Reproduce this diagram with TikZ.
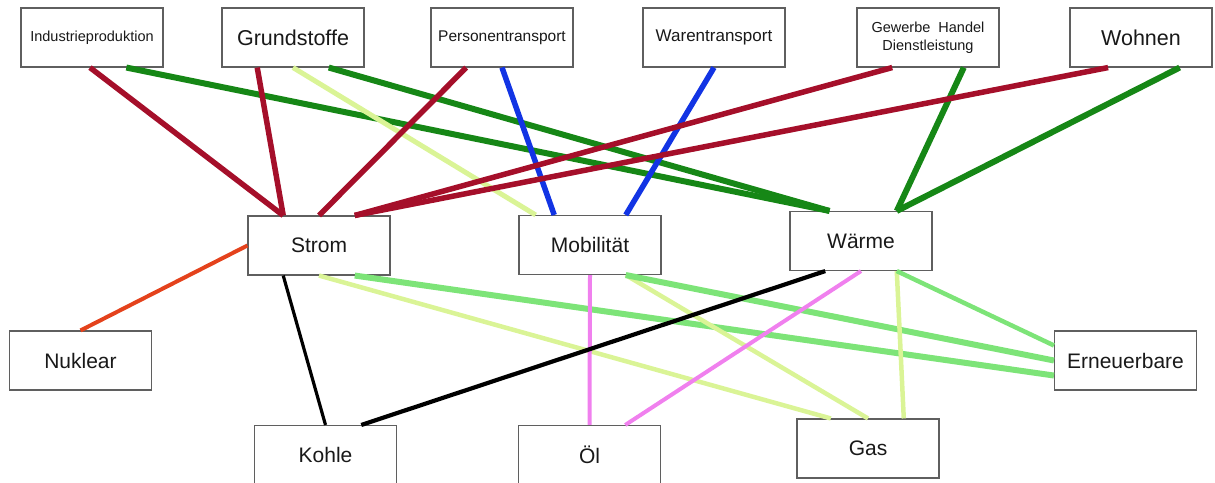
\documentclass[tikz,border=0pt]{standalone}
\usepackage{fontspec}
\setmainfont{Liberation Sans}
\usetikzlibrary{calc}
\definecolor{cred}{RGB}{165,15,42}
\definecolor{cdgreen}{RGB}{22,135,22}
\definecolor{cblue}{RGB}{18,52,228}
\definecolor{cyg}{RGB}{218,244,150}
\definecolor{clgreen}{RGB}{125,228,120}
\definecolor{cpink}{RGB}{240,128,238}
\definecolor{corange}{RGB}{228,66,28}
\definecolor{cborder}{RGB}{95,95,95}
\definecolor{ctext}{RGB}{25,25,25}
\begin{document}
\begin{tikzpicture}[x=1pt,y=-1pt,
  box/.style={draw=cborder, line width=1.1pt, fill=white, minimum width=142pt, minimum height=59pt, inner sep=0pt, text=ctext, align=center},
  small/.style={font=\fontsize{14.5}{17.5}\selectfont},
  smallb/.style={font=\fontsize{15.5}{18}\selectfont},
  mid/.style={font=\fontsize{17}{19}\selectfont},
  big/.style={font=\fontsize{21}{24}\selectfont},
  bigg/.style={font=\fontsize{21.5}{24}\selectfont},
  redl/.style={cred, line width=5.5pt},
  dgl/.style={cdgreen, line width=6pt},
  bluel/.style={cblue, line width=5.5pt},
  ygl/.style={cyg, line width=5pt},
  lgl/.style={clgreen, line width=6pt},
  pinkl/.style={cpink, line width=4pt},
  blackl/.style={black, line width=4.2pt},
  orangel/.style={corange, line width=4pt}
]
\useasboundingbox (0,0) rectangle (1215,482);
\clip (0,0) rectangle (1215,482);
% nodes
\node[box, small] (ind)   at (92,37.5)    {Industrieproduktion};
\node[box, bigg]  (grund) at (293,37.5)   {Grundstoffe};
\node[box, smallb] (pers) at (502,37.5)   {Personentransport};
\node[box, mid]   (waren) at (714,37.5)   {Warentransport};
\node[box, small] (gew)   at (928,37.5)   {Gewerbe\ \ Handel\\Dienstleistung};
\node[box, bigg]  (wohn)  at (1141,37.5)  {Wohnen};
\node[box, big]   (strom) at (319,245.5)  {Strom};
\node[box, big]   (mob)   at (590,245)    {Mobilität};
\node[box, big]   (waerme) at (861,241)   {Wärme};
\node[box, big]   (nuk)   at (80.5,360.5) {Nuklear};
\node[box, big]   (ern)   at (1125.5,360.5) {Erneuerbare};
\node[box, big]   (kohle) at (325.5,455) {Kohle};
\node[box, big]   (oel)   at (589.5,455) {Öl};
\node[box, big]   (gas)   at (868,448.5)  {Gas};
% top connectors
\draw[redl] ($(ind.south west)!.486!(ind.south east)$) -- ($(strom.north west)!.25!(strom.north east)$);
\draw[dgl] ($(ind.south west)!.74!(ind.south east)$) -- ($(waerme.north west)!.28!(waerme.north east)$);
\draw[redl] ($(grund.south west)!.25!(grund.south east)$) -- ($(strom.north west)!.25!(strom.north east)$);
\draw[ygl] ($(grund.south west)!.5!(grund.south east)$) -- ($(mob.north west)!.12!(mob.north east)$);
\draw[dgl] ($(grund.south west)!.75!(grund.south east)$) -- ($(waerme.north west)!.28!(waerme.north east)$);
\draw[redl] ($(pers.south west)!.25!(pers.south east)$) -- ($(strom.north west)!.5!(strom.north east)$);
\draw[bluel] ($(pers.south west)!.5!(pers.south east)$) -- ($(mob.north west)!.25!(mob.north east)$);
\draw[bluel] ($(waren.south west)!.5!(waren.south east)$) -- ($(mob.north west)!.75!(mob.north east)$);
\draw[redl] ($(gew.south west)!.25!(gew.south east)$) -- ($(strom.north west)!.75!(strom.north east)$);
\draw[dgl] ($(gew.south west)!.75!(gew.south east)$) -- ($(waerme.north west)!.75!(waerme.north east)$);
\draw[redl] ($(wohn.south west)!.27!(wohn.south east)$) -- ($(strom.north west)!.75!(strom.north east)$);
\draw[dgl] ($(wohn.south west)!.77!(wohn.south east)$) -- ($(waerme.north west)!.75!(waerme.north east)$);
% middle to bottom
\draw[orangel] (strom.west) -- (nuk.north);
\draw[blackl, line width=3.2pt] ($(strom.south west)!.25!(strom.south east)$) -- ($(kohle.north west)!.5!(kohle.north east)$);
\draw[ygl, line width=4.5pt] ($(strom.south west)!.5!(strom.south east)$) -- ($(gas.north west)!.24!(gas.north east)$);
\draw[lgl] ($(strom.south west)!.75!(strom.south east)$) -- ($(ern.north west)!.75!(ern.south west)$);
\draw[ygl, line width=4.5pt] ($(mob.south west)!.75!(mob.south east)$) -- (gas.north);
\draw[pinkl] (mob.south) -- ($(oel.north west)!.5!(oel.north east)$);
\draw[lgl] ($(mob.south west)!.75!(mob.south east)$) -- (ern.west);
\draw[blackl] ($(waerme.south west)!.25!(waerme.south east)$) -- ($(kohle.north west)!.75!(kohle.north east)$);
\draw[pinkl] (waerme.south) -- ($(oel.north west)!.75!(oel.north east)$);
\draw[ygl, line width=4.5pt] ($(waerme.south west)!.75!(waerme.south east)$) -- ($(gas.north west)!.75!(gas.north east)$);
\draw[lgl, line width=4.5pt] ($(waerme.south west)!.75!(waerme.south east)$) -- ($(ern.north west)!.25!(ern.south west)$);
\end{tikzpicture}
\end{document}
